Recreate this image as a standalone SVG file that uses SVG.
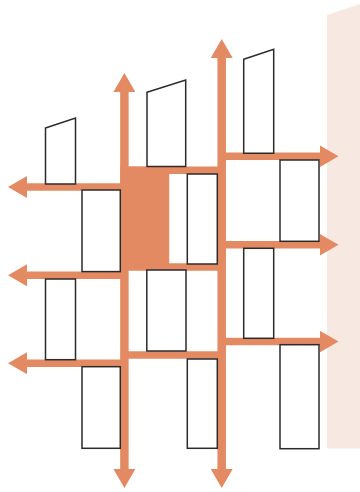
<svg xmlns="http://www.w3.org/2000/svg" width="360" height="492" viewBox="0 0 360 492">
<style>
.road{stroke:#E48A62;stroke-width:7.5;fill:none}
.vroad{stroke:#E48A62;stroke-width:8.5;fill:none}
.blk{fill:#ffffff;stroke:#2b2b2b;stroke-width:1.5}
</style>
<defs>
<marker id="ah" markerUnits="userSpaceOnUse" viewBox="0 0 19 22" refX="1" refY="11" markerWidth="19" markerHeight="22" orient="auto-start-reverse">
<path d="M0,0 L19,11 L0,22 z" fill="#E48A62"/>
</marker>
</defs>
<rect width="360" height="492" fill="#ffffff"/>
<polygon id="panel" points="327,15 360,4 360,448.5 327,448.5" fill="#F8E8E2"/>
<g id="connectors">
<line class="vroad" x1="124.4" y1="91" x2="124.4" y2="470" marker-start="url(#ah)" marker-end="url(#ah)"/>
<line class="vroad" x1="221.7" y1="57" x2="221.7" y2="470" marker-start="url(#ah)" marker-end="url(#ah)"/>
<line class="road" x1="124" y1="187" x2="26" y2="187" marker-end="url(#ah)"/>
<line class="road" x1="124" y1="275.3" x2="26" y2="275.3" marker-end="url(#ah)"/>
<line class="road" x1="124" y1="363.2" x2="26" y2="363.2" marker-end="url(#ah)"/>
<line class="road" x1="222" y1="156.3" x2="320.5" y2="156.3" marker-end="url(#ah)"/>
<line class="road" x1="222" y1="244.8" x2="320.5" y2="244.8" marker-end="url(#ah)"/>
<line class="road" x1="222" y1="341.5" x2="320.5" y2="341.5" marker-end="url(#ah)"/>
<line class="road" x1="124" y1="170.3" x2="222" y2="170.3"/>
<line class="road" x1="124" y1="267" x2="222" y2="267"/>
<line class="road" x1="124" y1="355" x2="222" y2="355"/>
</g>
<rect id="plaza" x="120.2" y="166.6" width="49" height="103.5" fill="#E48A62"/>
<g id="b1"><polygon class="blk" points="45.5,128 75.5,118 75.5,184 45.5,184"/></g>
<g id="b2"><rect class="blk" x="82" y="190" width="38.3" height="81.6"/></g>
<g id="b3"><rect class="blk" x="45.5" y="279" width="30" height="80.7"/></g>
<g id="b4"><rect class="blk" x="82" y="366.7" width="38.3" height="81.6"/></g>
<g id="b5"><polygon class="blk" points="147,92.3 185.7,80 185.7,166.6 147,166.6"/></g>
<g id="b6"><rect class="blk" x="187.3" y="174" width="30" height="90"/></g>
<g id="b7"><rect class="blk" x="146.8" y="270" width="39.2" height="81"/></g>
<g id="b8"><rect class="blk" x="187.3" y="359" width="30" height="89.3"/></g>
<g id="b9"><polygon class="blk" points="243.7,59.3 273.7,49.3 273.7,153.3 243.7,153.3"/></g>
<g id="b10"><rect class="blk" x="280" y="160" width="39" height="81.3"/></g>
<g id="b11"><rect class="blk" x="243.7" y="248.3" width="30" height="90"/></g>
<g id="b12"><rect class="blk" x="280" y="344.7" width="39" height="104"/></g>
</svg>
